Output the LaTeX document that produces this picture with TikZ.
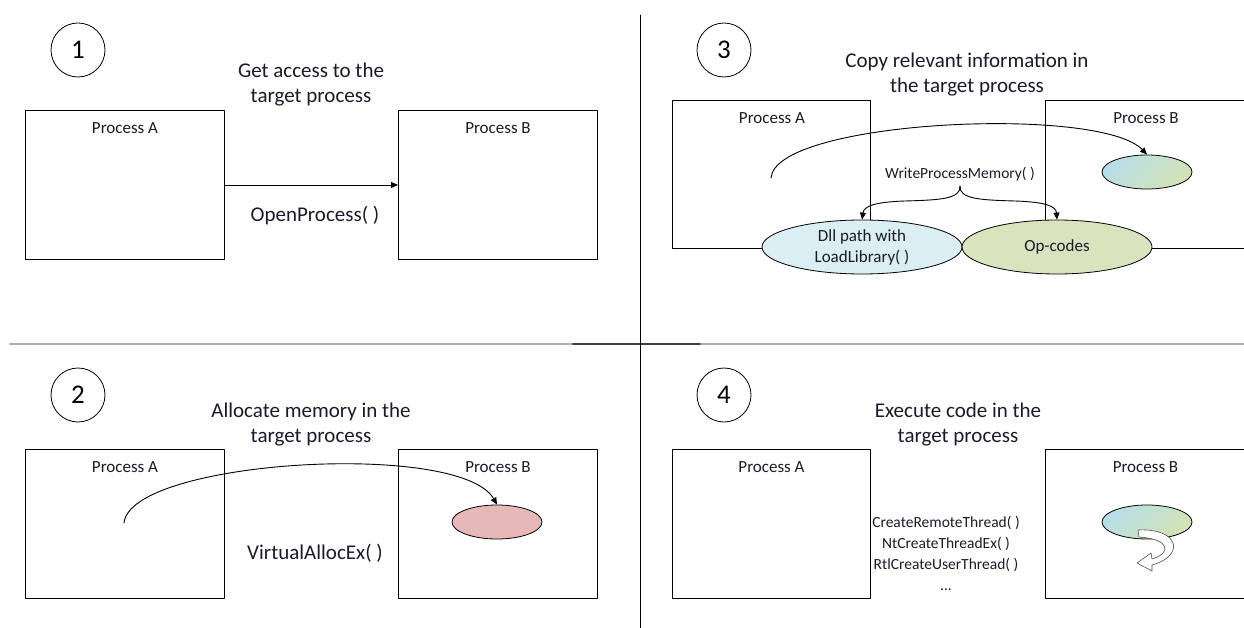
\documentclass[tikz,border=0pt]{standalone}
\usepackage{fontspec}
\setmainfont{Carlito}
\usetikzlibrary{shapes.geometric,arrows.meta,positioning}
\definecolor{memblue}{HTML}{DAEEF3}
\definecolor{memgreen}{HTML}{D7E4BD}
\definecolor{shblue}{HTML}{B7DEE8}
\definecolor{shgreen}{HTML}{D4E3B5}
\definecolor{mempink}{HTML}{E6B9B8}
\definecolor{txtdark}{HTML}{1A1A2A}
\tikzset{
  stepnum/.style={draw, circle, line width=0.8pt, minimum size=54pt, inner sep=0pt, font=\fontsize{27}{27}\selectfont},
  titletxt/.style={align=center, text=txtdark, font=\fontsize{21}{25}\selectfont},
  procbox/.style={draw, line width=1pt, minimum width=199pt, minimum height=149pt, inner sep=0pt, anchor=north west},
  proclabel/.style={font=\fontsize{17}{18}\selectfont, text=txtdark},
  apitxt/.style={font=\fontsize{15.5}{21}\selectfont, text=txtdark, align=center},
  memcell/.style={draw, ellipse, line width=0.8pt, inner sep=0pt, minimum width=90pt, minimum height=34pt},
  calllink/.style={->, line width=0.9pt}
}
\begin{document}
\begin{tikzpicture}[x=1pt, y=-1pt, line join=round, line cap=round, >={Triangle[length=7pt,width=6pt]}]
\useasboundingbox (0,0) rectangle (1244,628);
% dividers
\draw[gray!65, line width=1.6pt] (10,344) -- (1244,344);
\draw[black!75, line width=1.6pt] (573,344) -- (700,344);
\draw[line width=0.8pt] (640,15) -- (640,628);

% 1
\node[stepnum] (n1) at (78,50) {1};
\node[titletxt] (t1) at (311,85) {Get access to the\\target process};
\node[procbox] (a1) at (25,110) {};
\node[procbox] (b1) at (398,110) {};
\node[proclabel] (la1) at ([yshift=-18pt]a1.north) {Process A};
\node[proclabel] (lb1) at ([yshift=-18pt]b1.north) {Process B};
\draw[calllink] (a1.east) -- (b1.west);
\node[titletxt] (op1) at (315,216) {OpenProcess( )};

% 2
\node[stepnum] (n2) at (78,395) {2};
\node[titletxt] (t2) at (311,425) {Allocate memory in the\\target process};
\node[procbox] (a2) at (25,449) {};
\node[procbox] (b2) at (398,449) {};
\node[proclabel] (la2) at ([yshift=-18pt]a2.north) {Process A};
\node[proclabel] (lb2) at ([yshift=-18pt]b2.north) {Process B};
\node[memcell, fill=mempink] (m2) at (497,522) {};
\coordinate (s2) at (124,523);
\draw[calllink] (s2) .. controls (130,460) and (460,440) .. (m2.north);
\node[titletxt] (va2) at (315,553) {VirtualAllocEx( )};

% 3
\node[stepnum] (n3) at (724,50) {3};
\node[titletxt] (t3) at (967,75) {Copy relevant information in\\the target process};
\node[procbox, minimum width=198pt, minimum height=148pt] (a3) at (672,100) {};
\node[procbox, minimum width=210pt, minimum height=148pt] (b3) at (1045,100) {};
\node[proclabel] (la3) at (772,118) {Process A};
\node[proclabel] (lb3) at (1146,118) {Process B};
\node[memcell, fill=memblue, minimum width=200pt, minimum height=54pt, align=center,
      font=\fontsize{17}{21}\selectfont, text=txtdark] (dll) at (862,247) {Dll path with\\LoadLibrary( )};
\node[memcell, fill=memgreen, minimum width=190pt, minimum height=54pt,
      font=\fontsize{17}{21}\selectfont, text=txtdark] (opc) at (1057,247) {Op-codes};
\node[memcell, top color=shblue, bottom color=shgreen, shading angle=45] (g3) at (1147,172) {};
\coordinate (s3) at (771,178);
\draw[calllink] (s3) .. controls (775,120) and (1100,105) .. (g3.north);
\node[apitxt] (w3) at (960,174) {WriteProcessMemory( )};
\coordinate (br) at (960,186);
\draw[calllink] (br) .. controls (961,199) and (940,200) .. (905,201)
  .. controls (875,202) and (864,206) .. (dll.north);
\draw[calllink] (br) .. controls (959,199) and (980,200) .. (1015,201)
  .. controls (1045,202) and (1056,206) .. (opc.north);

% 4
\node[stepnum] (n4) at (724,395) {4};
\node[titletxt] (t4) at (958,425) {Execute code in the\\target process};
\node[procbox, minimum width=198pt] (a4) at (672,449) {};
\node[procbox, minimum width=200pt] (b4) at (1045,449) {};
\node[proclabel] (la4) at ([yshift=-18pt]a4.north) {Process A};
\node[proclabel] (lb4) at ([yshift=-18pt]b4.north) {Process B};
\node[apitxt] (api4) at (946,553) {CreateRemoteThread( )\\NtCreateThreadEx( )\\RtlCreateUserThread( )\\...};
\node[memcell, top color=shblue, bottom color=shgreen, shading angle=45] (g4) at (1147,522) {};
% turning arrow
\filldraw[fill=white, line width=0.6pt, draw=black!70]
  (1138,530) .. controls (1180,528) and (1185,556) .. (1152,565) -- (1152,571)
  -- (1137,563) -- (1151,553) -- (1152,559)
  .. controls (1172,553) and (1170,539) .. (1139,537) -- cycle;
\end{tikzpicture}
\end{document}
